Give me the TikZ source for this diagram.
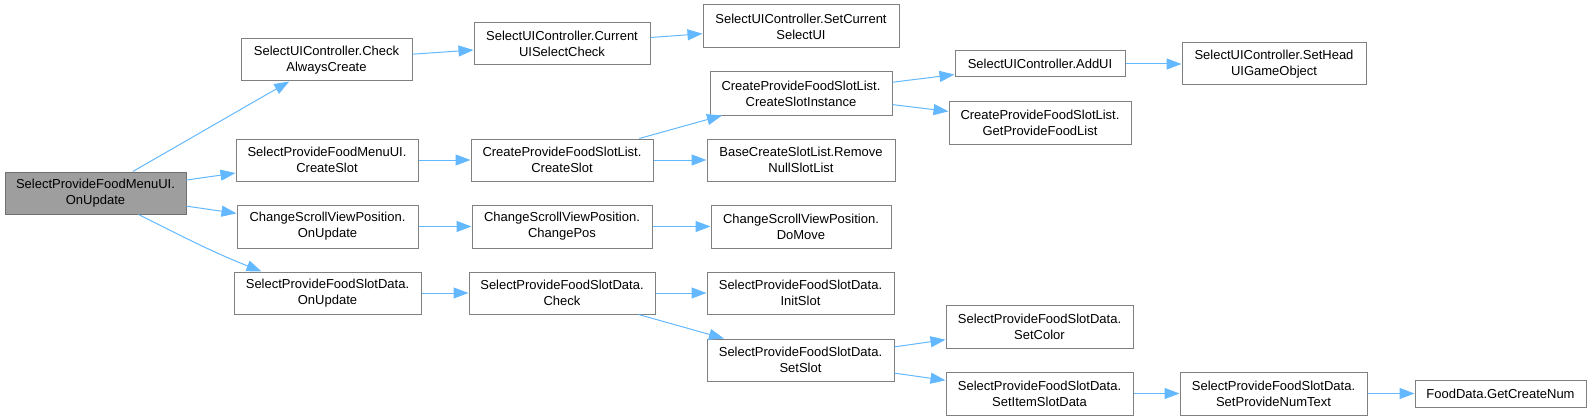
\documentclass[tikz,border=0pt]{standalone}
\usepackage{fontspec}
\setmainfont{Liberation Sans}
\usetikzlibrary{arrows.meta,calc}
\definecolor{edgeblue}{HTML}{63B8FF}
\definecolor{boxline}{HTML}{808080}
\definecolor{rootfill}{HTML}{9E9E9E}
\definecolor{rootline}{HTML}{707070}
\tikzset{
  box/.style={draw=boxline, line width=1pt, fill=white, inner sep=0pt, align=center,
    font=\fontsize{13}{16}\selectfont, text=black},
  rootbox/.style={box, fill=rootfill, draw=rootline},
  edge/.style={draw=edgeblue, line width=1pt, -{Triangle[length=15pt,width=11pt]}},
}
\newcommand{\bx}[7][box]{%
  \node[#1, minimum width={#5-#3}, minimum height={#6-#4}] (#2) at ({(#3+#5)/2},{(#4+#6)/2}) {#7};}
\begin{document}
\begin{tikzpicture}[x=1pt,y=-1pt]
\useasboundingbox (0,0) rectangle (1591,420);
\bx[rootbox]{root}{5}{172}{186}{214}{SelectProvideFoodMenuUI.\\OnUpdate}
\bx{cac}{241}{39}{412}{81}{SelectUIController.Check\\AlwaysCreate}
\bx{cusc}{474}{23}{650}{65}{SelectUIController.Current\\UISelectCheck}
\bx{scsu}{703}{5}{899}{48}{SelectUIController.SetCurrent\\SelectUI}
\bx{mcs}{236}{139}{418}{181}{SelectProvideFoodMenuUI.\\CreateSlot}
\bx{cpcs}{471}{139}{653}{181}{CreateProvideFoodSlotList.\\CreateSlot}
\bx{csi}{710}{72}{892}{115}{CreateProvideFoodSlotList.\\CreateSlotInstance}
\bx{rnsl}{707}{139}{895}{181}{BaseCreateSlotList.Remove\\NullSlotList}
\bx{addui}{955}{51}{1125}{77}{SelectUIController.AddUI}
\bx{shead}{1182}{43}{1366}{85}{SelectUIController.SetHead\\UIGameObject}
\bx{gpfl}{949}{101}{1131}{144}{CreateProvideFoodSlotList.\\GetProvideFoodList}
\bx{csvou}{237}{205}{418}{248}{ChangeScrollViewPosition.\\OnUpdate}
\bx{cpos}{472}{205}{652}{248}{ChangeScrollViewPosition.\\ChangePos}
\bx{domove}{711}{205}{891}{248}{ChangeScrollViewPosition.\\DoMove}
\bx{sdou}{234}{272}{421}{314}{SelectProvideFoodSlotData.\\OnUpdate}
\bx{check}{469}{272}{655}{314}{SelectProvideFoodSlotData.\\Check}
\bx{init}{707}{272}{894}{314}{SelectProvideFoodSlotData.\\InitSlot}
\bx{setslot}{707}{339}{894}{381}{SelectProvideFoodSlotData.\\SetSlot}
\bx{setcolor}{946}{305}{1133}{348}{SelectProvideFoodSlotData.\\SetColor}
\bx{sisd}{946}{372}{1133}{415}{SelectProvideFoodSlotData.\\SetItemSlotData}
\bx{spnt}{1180}{372}{1367}{415}{SelectProvideFoodSlotData.\\SetProvideNumText}
\bx{fd}{1415}{380}{1586}{407}{FoodData.GetCreateNum}
% edges
\draw[edge] (root) -- (cac);
\draw[edge] (root) -- (mcs);
\draw[edge] (root) -- (csvou);
\coordinate (rs) at ($(root.south west)+(134,0)$);
\coordinate (se) at ($(sdou.north west)+(28,0)$);
\draw[edge] (rs) .. controls ($(rs)+(50,25)$) and ($(se)+(-50,-20)$) .. (se);
\draw[edge] (cac) -- (cusc);
\draw[edge] (cusc) -- (scsu);
\draw[edge] (mcs) -- (cpcs);
\draw[edge] (cpcs) -- (csi);
\draw[edge] (cpcs) -- (rnsl);
\draw[edge] (csi) -- (addui);
\draw[edge] (csi) -- (gpfl);
\draw[edge] (addui) -- (shead);
\draw[edge] (csvou) -- (cpos);
\draw[edge] (cpos) -- (domove);
\draw[edge] (sdou) -- (check);
\draw[edge] (check) -- (init);
\draw[edge] (check) -- (setslot);
\draw[edge] (setslot) -- (setcolor);
\draw[edge] (setslot) -- (sisd);
\draw[edge] (sisd) -- (spnt);
\draw[edge] (spnt) -- (fd);
\end{tikzpicture}
\end{document}
